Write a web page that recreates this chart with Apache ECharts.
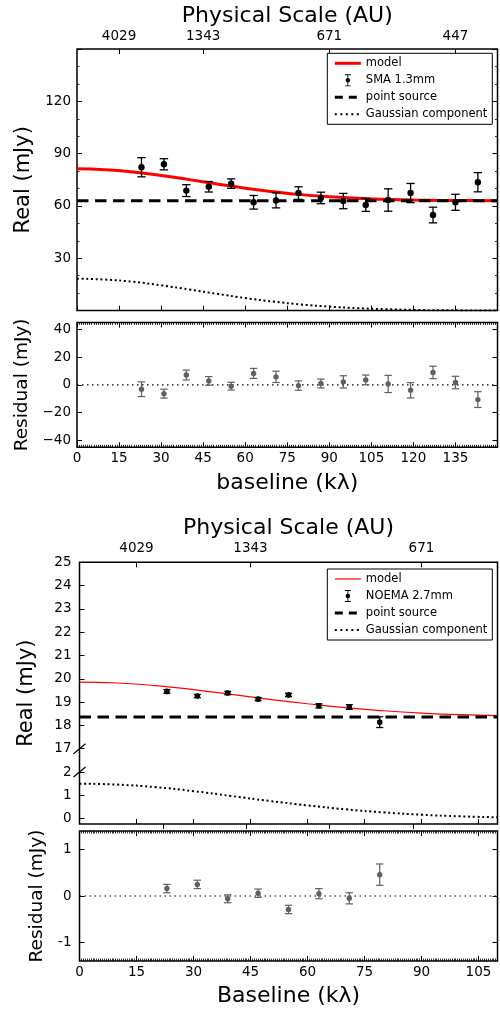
<!DOCTYPE html>
<html>
<head>
<meta charset="utf-8">
<script src="https://cdn.jsdelivr.net/npm/echarts@6/dist/echarts.min.js"></script>
<style>html,body{margin:0;padding:0;background:#fff}#c{width:500px;height:1012px}</style>
</head>
<body>
<div id="c"></div>
<script>
// ---------------- DATA ----------------
// Top: SMA 1.3mm
const smaX        = [23, 31, 39, 47, 55, 63, 71, 79, 87, 95, 103, 111, 119, 127, 135, 143];
const smaReal     = [82.2, 83.9, 68.8, 71.0, 72.8, 62.1, 63.2, 67.4, 64.6, 62.8, 60.6, 63.4, 67.4, 54.8, 62.1, 73.6];
const smaErr      = [5.5, 3.2, 3.4, 3.0, 2.7, 3.9, 4.3, 3.6, 3.3, 4.4, 3.7, 6.4, 5.5, 4.5, 4.6, 5.5];
const smaResid    = [-3.1, -6.3, 7.1, 2.9, -0.9, 8.3, 5.8, -0.5, 1.0, 2.2, 3.6, 0.7, -3.9, 9.0, 1.7, -10.6];
const smaResidErr = [5.3, 3.2, 3.6, 3.1, 2.8, 3.6, 4.1, 3.4, 3.2, 4.4, 3.5, 6.2, 5.5, 4.5, 4.5, 5.7];
const smaCurveX   = [0, 10, 20, 30, 40, 50, 60, 70, 80, 90, 100, 110, 120, 130, 140, 150];
const smaModel    = [81.3, 80.8, 79.5, 77.5, 75.1, 72.6, 70.2, 68.2, 66.5, 65.3, 64.4, 63.8, 63.4, 63.2, 63.1, 63.0];
const smaGauss    = [18.3, 17.8, 16.5, 14.5, 12.1, 9.6, 7.2, 5.2, 3.5, 2.3, 1.4, 0.8, 0.4, 0.2, 0.1, 0.0];
const smaPoint    = 63.0;
const smaXLabels  = [0, 15, 30, 45, 60, 75, 90, 105, 120, 135];
const smaAuPos    = [15, 45, 90, 135];
const smaAuLabels = ['4029', '1343', '671', '447'];
const smaYLabels  = [30, 60, 90, 120];
const smaResTicks = [-40, -20, 0, 20, 40];

// Bottom: NOEMA 2.7mm
const noemaX        = [23, 31, 39, 47, 55, 63, 71, 79];
const noemaReal     = [19.46, 19.26, 19.39, 19.13, 19.31, 18.84, 18.79, 18.14];
const noemaErr      = [0.08, 0.07, 0.07, 0.07, 0.07, 0.09, 0.1, 0.23];
const noemaResid    = [0.16, 0.25, -0.06, 0.06, -0.29, 0.05, -0.05, 0.46];
const noemaResidErr = [0.09, 0.09, 0.085, 0.09, 0.09, 0.11, 0.12, 0.23];
const noemaCurveX   = [0, 10, 20, 30, 40, 50, 60, 70, 80, 90, 100, 110];
const noemaModel    = [19.86, 19.82, 19.71, 19.54, 19.33, 19.12, 18.93, 18.76, 18.63, 18.53, 18.46, 18.42];
const noemaGauss    = [1.50, 1.46, 1.35, 1.18, 0.97, 0.76, 0.57, 0.40, 0.27, 0.17, 0.10, 0.06];
const noemaPoint    = 18.36;
const noemaXLabels  = [0, 15, 30, 45, 60, 75, 90, 105];
const noemaAuPos    = [15, 45, 90];
const noemaAuLabels = ['4029', '1343', '671'];
const noemaYTickVals = [0, 1, 2, 17, 18, 19, 20, 21, 22, 23, 24, 25];
const noemaResTicks = [-1, 0, 1];
const noemaOddTicks = [22, 43.8, 65.8, 87.8];

// broken axis (2 -> 17)
const BREAK_LO = 2, BREAK_HI = 17, BREAK_GAP = 1;
const SHIFT = BREAK_HI - BREAK_LO - BREAK_GAP;
const toAxis = v => (v >= BREAK_HI ? v - SHIFT : v);
const fromAxis = t => (t > BREAK_LO ? t + SHIFT : t);

// ---------------- HELPERS ----------------
const FONT = 'DejaVu Sans';
const zip = (a, b) => a.map((v, i) => [v, b[i]]);
const zip3 = (a, b, c) => a.map((v, i) => [v, b[i], c[i]]);
const minusFmt = v => (v < 0 ? '\u2212' + Math.abs(v) : String(v));

function errorBars(color, r, capHalf, lw) {
  return function (params, api) {
    const x = api.value(0), y = api.value(1), e = api.value(2);
    const c = api.coord([x, y]);
    const top = api.coord([x, y + e])[1];
    const bot = api.coord([x, y - e])[1];
    return {
      type: 'group',
      children: [
        { type: 'line', shape: { x1: c[0], y1: top, x2: c[0], y2: bot }, style: { stroke: color, lineWidth: lw } },
        { type: 'line', shape: { x1: c[0] - capHalf, y1: top, x2: c[0] + capHalf, y2: top }, style: { stroke: color, lineWidth: lw } },
        { type: 'line', shape: { x1: c[0] - capHalf, y1: bot, x2: c[0] + capHalf, y2: bot }, style: { stroke: color, lineWidth: lw } },
        { type: 'circle', shape: { cx: c[0], cy: c[1], r: r }, style: { fill: color } }
      ]
    };
  };
}

const tick = (extra) => Object.assign({ show: true, inside: true, length: 5, lineStyle: { color: '#000', width: 1 } }, extra || {});
const minor = n => ({ show: true, splitNumber: n, length: 2.5, lineStyle: { color: '#000', width: 0.8 } });
const lab = (extra) => Object.assign({ color: '#000', fontFamily: FONT, fontSize: 13.5 }, extra || {});
const nameStyle = (size) => ({ color: '#000', fontFamily: FONT, fontSize: size });
const base = { type: 'value', axisLine: { show: false, onZero: false }, splitLine: { show: false } };
const ax = o => Object.assign({}, base, o);

const gridBase = { show: true, borderColor: '#000', borderWidth: 1.5, backgroundColor: 'transparent', containLabel: false, outerBoundsMode: 'none' };

const ERR_ICON = 'path://M1 0H9V1.2H1Z M1 14.8H9V16H1Z M4.4 0H5.6V16H4.4Z M2 8A3 3 0 1 1 8 8A3 3 0 1 1 2 8Z';

const legendBase = {
  orient: 'vertical', right: 7.7, align: 'left', itemWidth: 26, itemHeight: 12, itemGap: 5,
  padding: [4, 5, 4, 6], borderColor: '#000', borderWidth: 1, borderRadius: 0, backgroundColor: '#fff',
  textStyle: { fontFamily: FONT, fontSize: 11.5, color: '#000' }, selectedMode: false,
  formatter: n => n.trim()
};

// ---------------- CHART ----------------
const chart = echarts.init(document.getElementById('c'), null, { renderer: 'canvas' });

const option = {
  animation: false,
  backgroundColor: '#fff',
  grid: [
    Object.assign({ left: 77, right: 2.5, top: 49, height: 261.6 }, gridBase),
    Object.assign({ left: 77, right: 2.5, top: 322.5, height: 124.8 }, gridBase),
    Object.assign({ left: 79.5, right: 2.5, top: 562.3, height: 261.7 }, gridBase),
    Object.assign({ left: 79.5, right: 2.5, top: 831, height: 130 }, gridBase)
  ],
  xAxis: [
    // 0 top main bottom edge
    ax({ gridIndex: 0, min: 0, max: 150, interval: 15, position: 'bottom', axisTick: tick(), axisLabel: { show: false } }),
    // 1 top main physical scale
    ax({ gridIndex: 0, min: 0, max: 150, position: 'top', axisTick: tick({ customValues: smaAuPos }),
      axisLabel: lab({ margin: 6, customValues: smaAuPos, formatter: v => smaAuLabels[smaAuPos.indexOf(v)] }),
      name: 'Physical Scale (AU)', nameLocation: 'middle', nameGap: 22, nameTextStyle: nameStyle(22) }),
    // 2 top residual bottom
    ax({ gridIndex: 1, min: 0, max: 150, interval: 15, position: 'bottom', axisTick: tick(), minorTick: minor(20),
      axisLabel: lab({ margin: 4, customValues: smaXLabels }),
      name: 'baseline (k\u03bb)', nameLocation: 'middle', nameGap: 24.5, nameTextStyle: nameStyle(22) }),
    // 3 top residual top edge
    ax({ gridIndex: 1, min: 0, max: 150, interval: 15, position: 'top', axisTick: tick(), minorTick: minor(20), axisLabel: { show: false } }),
    // 4 bottom main bottom edge
    ax({ gridIndex: 2, min: 0, max: 110, interval: 15, position: 'bottom', axisTick: tick(), axisLabel: { show: false } }),
    // 5 bottom main physical scale
    ax({ gridIndex: 2, min: 0, max: 110, position: 'top', axisTick: tick({ customValues: noemaAuPos }),
      axisLabel: lab({ margin: 6.5, customValues: noemaAuPos, formatter: v => noemaAuLabels[noemaAuPos.indexOf(v)] }),
      name: 'Physical Scale (AU)', nameLocation: 'middle', nameGap: 23, nameTextStyle: nameStyle(22) }),
    // 6 bottom residual bottom
    ax({ gridIndex: 3, min: 0, max: 110, interval: 15, position: 'bottom', axisTick: tick(), minorTick: minor(30),
      axisLabel: lab({ margin: 4, customValues: noemaXLabels }),
      name: 'Baseline (k\u03bb)', nameLocation: 'middle', nameGap: 24.5, nameTextStyle: nameStyle(22) }),
    // 7 bottom residual top edge
    ax({ gridIndex: 3, min: 0, max: 110, interval: 15, position: 'top', axisTick: tick(), minorTick: minor(30), axisLabel: { show: false } }),
    // 8 bottom main: outward stray ticks
    ax({ gridIndex: 2, min: 0, max: 110, position: 'bottom', axisTick: tick({ inside: false, customValues: noemaOddTicks }), axisLabel: { show: false } })
  ],
  yAxis: [
    // 0 top main left
    ax({ gridIndex: 0, min: 0, max: 150, interval: 30, position: 'left', axisTick: tick(), minorTick: minor(3),
      axisLabel: lab({ margin: 6, customValues: smaYLabels }),
      name: 'Real (mJy)', nameLocation: 'middle', nameRotate: 90, nameGap: 33, nameTextStyle: nameStyle(21) }),
    // 1 top main right
    ax({ gridIndex: 0, min: 0, max: 150, interval: 30, position: 'right', axisTick: tick(), minorTick: minor(3), axisLabel: { show: false } }),
    // 2 top residual left
    ax({ gridIndex: 1, min: -45, max: 45, position: 'left', axisTick: tick({ customValues: smaResTicks }),
      axisLabel: lab({ margin: 6, customValues: smaResTicks, formatter: minusFmt }),
      name: 'Residual (mJy)', nameLocation: 'middle', nameRotate: 90, nameGap: 44, nameTextStyle: nameStyle(18.5) }),
    // 3 top residual right
    ax({ gridIndex: 1, min: -45, max: 45, position: 'right', axisTick: tick({ customValues: smaResTicks }), axisLabel: { show: false } }),
    // 4 bottom main left (broken)
    ax({ gridIndex: 2, min: -0.23, max: toAxis(25), position: 'left',
      axisTick: tick({ customValues: noemaYTickVals.map(toAxis) }),
      axisLabel: lab({ margin: 8, customValues: noemaYTickVals.map(toAxis), formatter: t => String(fromAxis(t)) }),
      name: 'Real (mJy)', nameLocation: 'middle', nameRotate: 90, nameGap: 42, nameTextStyle: nameStyle(21) }),
    // 5 bottom residual left
    ax({ gridIndex: 3, min: -1.4, max: 1.4, position: 'left', axisTick: tick({ customValues: noemaResTicks }),
      axisLabel: lab({ margin: 8, customValues: noemaResTicks, formatter: v => String(v) }),
      name: 'Residual (mJy)', nameLocation: 'middle', nameRotate: 90, nameGap: 23, nameTextStyle: nameStyle(18.5) }),
    // 6 bottom residual right
    ax({ gridIndex: 3, min: -1.4, max: 1.4, position: 'right', axisTick: tick({ customValues: noemaResTicks }), axisLabel: { show: false } })
  ],
  legend: [
    Object.assign({}, legendBase, {
      top: 53.3,
      data: [
        { name: 'model', itemStyle: { opacity: 0 }, lineStyle: { width: 3 } },
        { name: 'SMA 1.3mm', icon: ERR_ICON },
        { name: 'point source', itemStyle: { opacity: 0 }, lineStyle: { width: 3, type: [8, 6] } },
        { name: 'Gaussian component', itemStyle: { opacity: 0 }, lineStyle: { width: 2, type: [2, 3.5] } }
      ]
    }),
    Object.assign({}, legendBase, {
      top: 569,
      data: [
        { name: 'model ', itemStyle: { opacity: 0 }, lineStyle: { width: 1.2 } },
        { name: 'NOEMA 2.7mm', icon: ERR_ICON },
        { name: 'point source ', itemStyle: { opacity: 0 }, lineStyle: { width: 3, type: [8, 6] } },
        { name: 'Gaussian component ', itemStyle: { opacity: 0 }, lineStyle: { width: 2, type: [2, 3.5] } }
      ]
    })
  ],
  series: [
    // ---- top main ----
    { name: 'model', type: 'line', xAxisIndex: 0, yAxisIndex: 0, data: zip(smaCurveX, smaModel), smooth: true, symbol: 'none',
      lineStyle: { color: '#ff0000', width: 3 }, itemStyle: { color: '#ff0000' }, z: 3 },
    { name: 'point source', type: 'line', xAxisIndex: 0, yAxisIndex: 0, data: [[0, smaPoint], [150, smaPoint]], symbol: 'none',
      lineStyle: { color: '#000', width: 3, type: [11.5, 6.5] }, itemStyle: { color: '#000' }, z: 4 },
    { name: 'Gaussian component', type: 'line', xAxisIndex: 0, yAxisIndex: 0, data: zip(smaCurveX, smaGauss), smooth: true, symbol: 'none',
      lineStyle: { color: '#000', width: 2, type: [2, 2.7] }, itemStyle: { color: '#000' }, z: 3 },
    { name: 'SMA 1.3mm', type: 'custom', xAxisIndex: 0, yAxisIndex: 0, data: zip3(smaX, smaReal, smaErr), encode: { x: 0, y: 1 },
      renderItem: errorBars('#000', 3.2, 4.2, 1.3), itemStyle: { color: '#000' }, z: 5 },
    // ---- top residual ----
    { name: '_zero1', type: 'line', xAxisIndex: 2, yAxisIndex: 2, data: [[0, 0], [150, 0]], symbol: 'none',
      lineStyle: { color: '#000', width: 1.2, type: [1.5, 3.5] }, z: 2 },
    { name: '_res1', type: 'custom', xAxisIndex: 2, yAxisIndex: 2, data: zip3(smaX, smaResid, smaResidErr), encode: { x: 0, y: 1 },
      renderItem: errorBars('#606060', 2.7, 3.7, 1.2), itemStyle: { color: '#606060' }, z: 5 },
    // ---- bottom main ----
    { name: 'model ', type: 'line', xAxisIndex: 4, yAxisIndex: 4, data: zip(noemaCurveX, noemaModel.map(toAxis)), smooth: true, symbol: 'none',
      lineStyle: { color: '#ff0000', width: 1.2 }, itemStyle: { color: '#ff0000' }, z: 3 },
    { name: 'point source ', type: 'line', xAxisIndex: 4, yAxisIndex: 4, data: [[0, toAxis(noemaPoint)], [110, toAxis(noemaPoint)]], symbol: 'none',
      lineStyle: { color: '#000', width: 3, type: [11.5, 6.5] }, itemStyle: { color: '#000' }, z: 4 },
    { name: 'Gaussian component ', type: 'line', xAxisIndex: 4, yAxisIndex: 4, data: zip(noemaCurveX, noemaGauss.map(toAxis)), smooth: true, symbol: 'none',
      lineStyle: { color: '#000', width: 2, type: [2, 2.7] }, itemStyle: { color: '#000' }, z: 3 },
    { name: 'NOEMA 2.7mm', type: 'custom', xAxisIndex: 4, yAxisIndex: 4, data: zip3(noemaX, noemaReal.map(toAxis), noemaErr), encode: { x: 0, y: 1 },
      renderItem: errorBars('#000', 2.8, 3.5, 1.3), itemStyle: { color: '#000' }, z: 5 },
    // ---- bottom residual ----
    { name: '_zero2', type: 'line', xAxisIndex: 6, yAxisIndex: 5, data: [[0, 0], [110, 0]], symbol: 'none',
      lineStyle: { color: '#000', width: 1.2, type: [1.5, 3.5] }, z: 2 },
    { name: '_res2', type: 'custom', xAxisIndex: 6, yAxisIndex: 5, data: zip3(noemaX, noemaResid, noemaResidErr), encode: { x: 0, y: 1 },
      renderItem: errorBars('#606060', 2.7, 3.7, 1.2), itemStyle: { color: '#606060' }, z: 5 }
  ]
};

chart.setOption(option);

// axis-break markers on the left spine of the bottom main panel
const breakPts = [BREAK_LO, BREAK_LO + BREAK_GAP].map(t => chart.convertToPixel({ xAxisIndex: 4, yAxisIndex: 4 }, [0, t]));
chart.setOption({
  graphic: breakPts.map(p => ({
    type: 'line', z: 100,
    shape: { x1: p[0] - 6, y1: p[1] + 5, x2: p[0] + 6, y2: p[1] - 5 },
    style: { stroke: '#000', lineWidth: 1.2 }
  }))
});
</script>
</body>
</html>
